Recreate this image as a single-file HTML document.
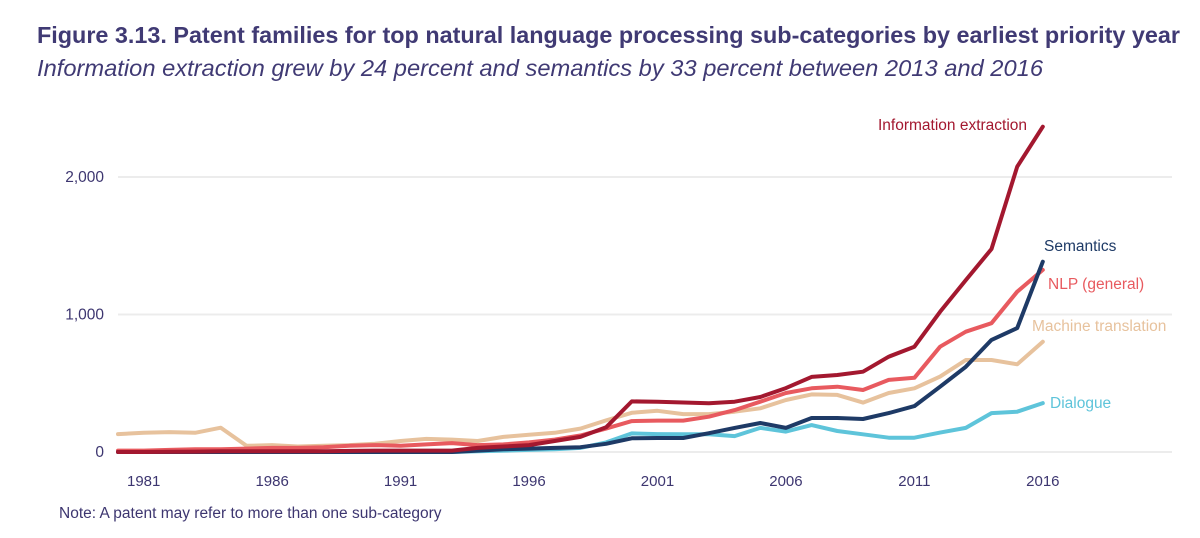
<!DOCTYPE html>
<html><head><meta charset="utf-8">
<style>
html,body{margin:0;padding:0;background:#fff;}
body{width:1200px;height:538px;overflow:hidden;font-family:"Liberation Sans",sans-serif;}
#title{position:absolute;left:37px;top:22px;font-size:23px;font-weight:bold;color:#403a74;white-space:nowrap;transform-origin:0 0;}
#subtitle{position:absolute;left:37px;top:55px;font-size:23px;font-style:italic;color:#403a74;white-space:nowrap;transform-origin:0 0;}
svg{position:absolute;left:0;top:0;}
</style></head><body>
<div id="title">Figure 3.13. Patent families for top natural language processing sub-categories by earliest priority year</div>
<div id="subtitle">Information extraction grew by 24 percent and semantics by 33 percent between 2013 and 2016</div>
<svg id="chart" width="1200" height="538"></svg>
<script>
const years = [1980,1981,1982,1983,1984,1985,1986,1987,1988,1989,1990,1991,1992,1993,1994,1995,1996,1997,1998,1999,2000,2001,2002,2003,2004,2005,2006,2007,2008,2009,2010,2011,2012,2013,2014,2015,2016];
const infoExtraction = [0,0,2,3,5,5,5,5,5,8,10,10,10,10,30,40,50,80,110,180,368,366,360,355,366,400,465,546,560,584,693,766,1020,1250,1476,2075,2366];
const semantics = [0,0,0,0,0,0,0,0,0,0,0,0,0,0,10,20,25,30,35,60,100,102,102,137,175,211,175,247,247,240,283,334,475,620,815,901,1384];
const nlpGeneral = [10,10,15,20,20,25,30,30,35,45,50,45,55,65,50,55,70,90,120,170,225,228,228,257,305,366,429,463,475,451,524,540,766,875,937,1166,1324];
const machineTranslation = [130,140,145,140,177,45,50,40,45,50,60,80,95,90,80,110,125,140,170,230,285,300,276,276,293,318,378,419,415,359,429,463,548,669,669,638,802];
const dialogue = [0,0,0,0,0,0,0,0,0,0,0,0,0,0,5,10,15,20,30,70,135,130,129,129,116,175,148,196,153,129,104,104,141,175,283,293,356];
const yTicks = [0,1000,2000];
const yTickLabels = ["0","1,000","2,000"];
const xTicks = [1981,1986,1991,1996,2001,2006,2011,2016];

function fit(id,w){const e=document.getElementById(id);const r=e.getBoundingClientRect().width;e.style.transform='scaleX('+(w/r)+')';}
fit('title',1143);
fit('subtitle',1006);

const NS="http://www.w3.org/2000/svg";
const svg=document.getElementById('chart');
function x(yr){return 118+(yr-1980)*25.69;}
function y(v){return 452-v*0.1375;}
function el(tag,attrs){const e=document.createElementNS(NS,tag);for(const k in attrs)e.setAttribute(k,attrs[k]);svg.appendChild(e);return e;}

yTicks.forEach((t,i)=>{
  const g=el('line',{x1:118,x2:1172,y1:y(t),y2:y(t),stroke:'#ececec','stroke-width':2});
  
  
  const tx=el('text',{x:104,y:y(t)+5,'text-anchor':'end','font-size':15.5,fill:'#3d3670','font-family':'Liberation Sans, sans-serif'});
  tx.textContent=yTickLabels[i];
  
  
});
xTicks.forEach(t=>{
  const tx=el('text',{x:x(t),y:486,'text-anchor':'middle','font-size':15,fill:'#3d3670','font-family':'Liberation Sans, sans-serif'});
  tx.textContent=String(t);
  
  
});

const series=[
  {name:'dialogue',data:dialogue,color:'#5ec4da',label:'Dialogue',lx:1050,ly:408},
  {name:'machine-translation',data:machineTranslation,color:'#e7c29d',label:'Machine translation',lx:1032,ly:331},
  {name:'nlp-general',data:nlpGeneral,color:'#e85a5f',label:'NLP (general)',lx:1048,ly:289},
  {name:'semantics',data:semantics,color:'#1e3a66',label:'Semantics',lx:1044,ly:251},
  {name:'information-extraction',data:infoExtraction,color:'#a3182f',label:'Information extraction',lx:878,ly:130}
];
series.forEach(s=>{
  const pts=s.data.map((v,i)=>x(years[i]).toFixed(1)+','+y(v).toFixed(1)).join(' ');
  const p=el('polyline',{points:pts,fill:'none',stroke:s.color,'stroke-width':4,'stroke-linejoin':'round','stroke-linecap':'round'});
  
  
  const t=el('text',{x:s.lx,y:s.ly,'font-size':15.5,fill:s.color,'font-family':'Liberation Sans, sans-serif'});
  t.textContent=s.label;
  
  
});
const note=el('text',{x:59,y:518,'font-size':15.5,fill:'#3d3670','font-family':'Liberation Sans, sans-serif'});
note.textContent='Note: A patent may refer to more than one sub-category';


</script>
</body></html>
